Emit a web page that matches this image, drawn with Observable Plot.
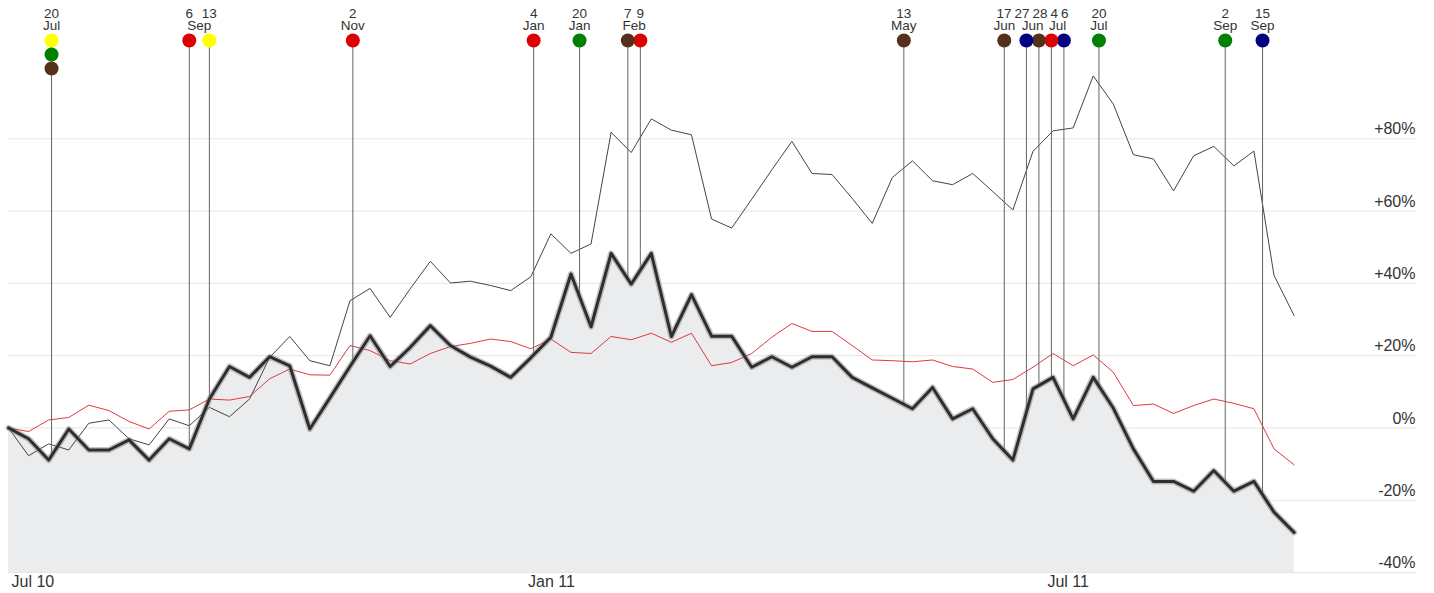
<!DOCTYPE html>
<html><head><meta charset="utf-8">
<script src="https://cdn.jsdelivr.net/npm/d3@7"></script>
<script src="https://cdn.jsdelivr.net/npm/@observablehq/plot@0.6"></script>
<style>body{margin:0;background:#fff;} svg{display:block}</style>
</head><body><div id="chart"></div>
<script>
// ---- data ----
const startDate = "2010-07-05"; // first weekly observation
const stock = [0, -3.0, -8.9, -0.3, -6.1, -6.1, -3.3, -8.9, -3.0, -5.8, 8.0, 17.0, 14.0, 19.7, 17.2, -0.3, 8.3, 17.0, 25.5, 17.0, 22.3, 28.3, 22.8, 19.6, 17.1, 14.0, 19.4, 25.1, 42.6, 28.0, 48.3, 39.8, 48.3, 25.3, 36.9, 25.4, 25.4, 16.8, 19.7, 16.8, 19.7, 19.7, 14.0, 11.1, 8.2, 5.3, 11.2, 2.5, 5.3, -3.0, -8.9, 10.8, 14.0, 2.5, 14.0, 5.5, -5.8, -14.8, -14.8, -17.5, -11.8, -17.5, -14.8, -23.3, -28.9];
const peer = [0, -7.7, -4.4, -6.1, 1.3, 2.2, -3.0, -4.7, 2.5, 0.6, 5.7, 3.1, 8.0, 19.5, 25.3, 18.6, 17.2, 35.2, 38.6, 30.6, 38.5, 46.1, 40.1, 40.6, 39.4, 38.0, 41.8, 53.7, 48.3, 50.9, 81.8, 76.2, 85.5, 82.4, 81.1, 57.8, 55.3, 63.3, 71.4, 79.3, 70.4, 70.1, 63.5, 56.6, 69.3, 73.9, 68.4, 67.3, 70.4, 65.4, 60.3, 76.5, 82.2, 83.0, 97.4, 89.6, 75.6, 74.4, 65.6, 75.3, 77.9, 72.5, 76.6, 42.2, 31.1];
const index = [0, -1.0, 2.2, 2.9, 6.3, 4.8, 1.8, -0.3, 4.6, 5.0, 8.0, 7.7, 8.7, 13.6, 16.3, 14.7, 14.6, 22.8, 21.4, 18.6, 17.7, 20.6, 22.5, 23.4, 24.6, 23.9, 21.9, 24.6, 20.9, 20.6, 25.3, 24.4, 26.2, 23.7, 26.2, 17.2, 18.1, 20.6, 25.1, 28.9, 26.7, 26.7, 22.8, 18.8, 18.6, 18.3, 18.8, 17.0, 16.3, 12.6, 13.4, 16.8, 20.6, 17.2, 20.2, 15.4, 6.2, 6.6, 4.0, 6.2, 8.0, 6.8, 5.3, -5.8, -10.2];

const eventDates = ["2010-07-20","2010-07-20","2010-07-20","2010-09-06","2010-09-13","2010-11-02","2011-01-04","2011-01-20","2011-02-07","2011-02-09","2011-05-13","2011-06-17","2011-06-27","2011-06-28","2011-07-04","2011-07-06","2011-07-20","2011-09-02","2011-09-15"];
const eventTypes = ["Y","G","B","R","Y","R","R","G","B","R","B","B","N","B","R","N","G","G","N"];
const typeNames = ["Y","G","B","R","N"];
const typeColors = ["#ffff00","#008000","#55301a","#dd0000","#000080"];

const yTicks = [-40, -20, 0, 20, 40, 60, 80];
const yDomain = [-40, 100];
const xDomain = ["2010-07-05", "2011-11-08"];
const xTickDates = ["2010-07-05", "2011-01-01", "2011-07-01"];

// ---- layout ----
const W = 1434, H = 593, mL = 8, mR = 17, mT = 66, mB = 21;
const parse = d3.utcParse("%Y-%m-%d");
const t0 = parse(startDate);
const dates = stock.map((_, i) => d3.utcDay.offset(t0, 7 * i));
const data = dates.map((date, i) => ({date, stock: stock[i], peer: peer[i], index: index[i]}));

const xs = Plot.scale({x: {type: "utc", domain: xDomain.map(parse), range: [mL, W - mR]}});

function stockAt(t) {
  const i = Math.max(0, Math.min(dates.length - 2, d3.bisectRight(dates, t) - 1));
  const a = dates[i], b = dates[i + 1];
  const f = Math.max(0, Math.min(1, (t - a) / (b - a)));
  return stock[i] + f * (stock[i + 1] - stock[i]);
}

// relax positions so neighbours keep a minimum separation
function relax(p, minSep) {
  const q = p.slice();
  for (let it = 0; it < 2000; it++) {
    let moved = false;
    for (let i = 0; i < q.length - 1; i++) {
      const s = minSep(i), gap = q[i + 1] - q[i];
      if (gap < s - 0.01) { const d = (s - gap) / 2; q[i] -= d; q[i + 1] += d; moved = true; }
    }
    if (!moved) break;
  }
  return q;
}

const uniq = Array.from(new Set(eventDates)).sort();
const truePos = uniq.map(s => xs.apply(parse(s)));
const circlePos = relax(truePos, () => 12.5);
const dayText = uniq.map(s => String(+s.slice(8)));
const textW = s => s.length * 7.5;
const labelPos = relax(circlePos, i => (textW(dayText[i]) + textW(dayText[i + 1])) / 2 + 3);

const fmtMonth = d3.utcFormat("%b");
const stops = uniq.map((s, i) => {
  const date = xs.invert(circlePos[i]);
  return {key: s, orig: parse(s), date, px: circlePos[i], labelDate: xs.invert(labelPos[i]),
          day: dayText[i], month: fmtMonth(parse(s)), value: stockAt(date)};
});
const byKey = new Map(stops.map(s => [s.key, s]));

// month labels shared by close events of the same month
const groups = [];
stops.forEach((s, i) => {
  const prev = stops[i - 1];
  if (prev && prev.month === s.month && (s.orig - prev.orig) <= 7 * 864e5) groups[groups.length - 1].push(s);
  else groups.push([s]);
});
const monthLabels = groups.map(g => ({date: xs.invert(d3.mean(g, s => s.px)), text: g[0].month}));

const seen = new Map();
const events = eventDates.map((s, i) => {
  const level = seen.get(s) || 0; seen.set(s, level + 1);
  return {date: byKey.get(s).date, type: eventTypes[i], level};
}).reverse();
const levels = Array.from(new Set(events.map(e => e.level))).sort();

const fmtPct = d => d > 0 ? `+${d}%` : `${d}%`;

const chart = Plot.plot({
  width: W, height: H,
  marginLeft: mL, marginRight: mR, marginTop: mT, marginBottom: mB,
  style: {fontFamily: "'Liberation Sans', Arial, Helvetica, sans-serif", fontSize: "16px", color: "#333", background: "#fff", overflow: "visible"},
  x: {type: "utc", domain: xDomain.map(parse)},
  y: {domain: yDomain},
  color: {type: "ordinal", domain: typeNames, range: typeColors},
  marks: [
    Plot.ruleY(yTicks, {stroke: "#e6e6e6", strokeWidth: 1}),
    Plot.areaY(data, {x: "date", y1: yDomain[0], y2: "stock", fill: "#ebecee"}),
    Plot.lineY(data, {x: "date", y: "peer", stroke: "#444", strokeWidth: 1}),
    Plot.lineY(data, {x: "date", y: "index", stroke: "#e0393e", strokeWidth: 1}),
    Plot.ruleX(stops, {x: "date", y1: yDomain[1], y2: "value", insetTop: -26, stroke: "#666", strokeWidth: 1}),
    Plot.lineY(data, {x: "date", y: "stock", stroke: "#888", strokeWidth: 6, strokeOpacity: 0.5}),
    Plot.lineY(data, {x: "date", y: "stock", stroke: "#2e2e2e", strokeWidth: 3}),
    ...levels.map(L => Plot.dot(events.filter(e => e.level === L), {x: "date", frameAnchor: "top", dy: -26 + 14 * L, r: 7, fill: "type", stroke: "none"})),
    Plot.text(stops, {x: "labelDate", text: "day", frameAnchor: "top", dy: -58.5, fontSize: 13.5, fill: "#333"}),
    Plot.text(monthLabels, {x: "date", text: "text", frameAnchor: "top", dy: -46, fontSize: 13.5, fill: "#333"}),
    Plot.axisY(yTicks, {anchor: "right", tickSize: 0, tickPadding: 0, textAnchor: "end", dx: -2, dy: -9.5, tickFormat: fmtPct, fontSize: 16, fill: "#333"}),
    Plot.axisX(xTickDates.map(parse), {anchor: "bottom", tickSize: 0, tickPadding: 3, textAnchor: "start", dx: 3, tickFormat: d3.utcFormat("%b %y"), fontSize: 16, fill: "#333"})
  ]
});
document.getElementById("chart").appendChild(chart);
</script>
</body></html>
